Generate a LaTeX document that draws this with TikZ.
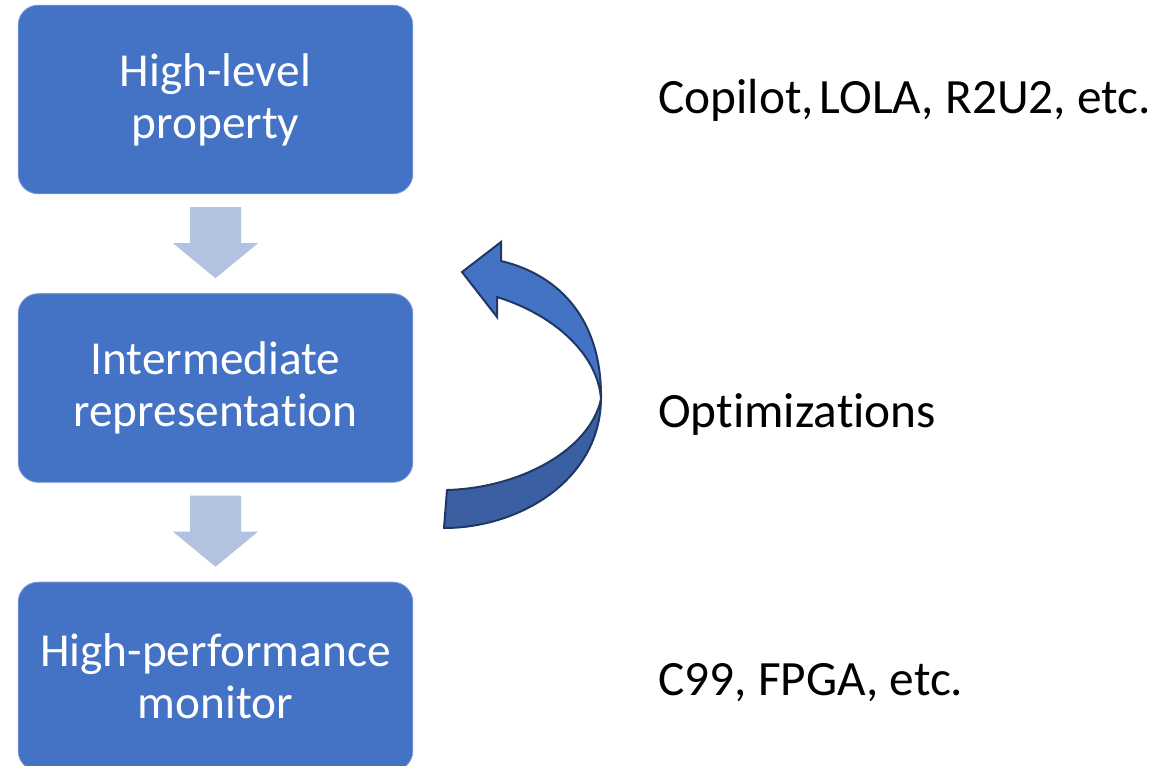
\documentclass[tikz,border=0pt]{standalone}
\usepackage{fontspec}
\setmainfont{Carlito}[Ligatures=NoCommon]
\usetikzlibrary{positioning,calc}
\definecolor{boxblue}{HTML}{4472C4}
\definecolor{flowblue}{HTML}{B4C2E2}
\definecolor{loopdark}{HTML}{3A5FA2}
\definecolor{loopline}{HTML}{1F3864}

\tikzset{
    stage/.style={rectangle, rounded corners=15pt, fill=boxblue, draw=boxblue!70!white,
        line width=0.6pt, minimum width=296pt, minimum height=141.5pt, text=white,
        align=center, font=\fontsize{35.5}{39}\selectfont},
    remark/.style={anchor=base west, inner sep=0pt, font=\fontsize{37}{40}\selectfont},
    flow/.style={fill=flowblue, draw=none}
}

\begin{document}
\begin{tikzpicture}[x=0.75pt, y=-0.75pt]
    \clip (0, 0) rectangle (1150, 765);

    % Stages of the compiler
    \node[stage] (prop) at (215.5, 99.5) {High-level\\property};
    \node[stage, below=74.25pt of prop] (ir) {Intermediate\\representation};
    \node[stage, below=74.25pt of ir] (mon) {High-performance\\monitor};

    % Block arrows between the stages
    \foreach \a/\b in {prop/ir, ir/mon}
        \fill[flow] ($(\a.south) + (-25.5, 13)$) -- ($(\a.south) + (25.5, 13)$)
            -- ($(\a.south) + (25.5, 49)$) -- ($(\a.south) + (42.5, 49)$)
            -- ($(\b.north) + (0, -15)$)
            -- ($(\a.south) + (-42.5, 49)$) -- ($(\a.south) + (-25.5, 49)$) -- cycle;

    % Curved arrow for the optimization loop
    \draw[fill=loopdark, draw=loopline, line width=1.5pt, line join=round]
        (444, 528) .. controls (520, 528) and (600, 480) .. (601, 399)
        .. controls (590, 450) and (520, 488) .. (447, 490) -- cycle;
    \draw[fill=boxblue, draw=loopline, line width=1.5pt, line join=miter]
        (601, 399) .. controls (602, 320) and (560, 275) .. (501, 261)
        -- (501, 242) -- (462, 272) -- (497, 317) -- (497, 297)
        .. controls (555, 315) and (598, 355) .. (601, 399) -- cycle;

    % Remarks on the right
    \node[remark] (tools) at (658, 113) {Copilot,\hspace{0.12em}LOLA, R2U2, etc.};
    \node[remark] (opt) at (658, 427) {Optimizations};
    \node[remark] (targets) at (658, 695) {C99, FPGA, etc.};
\end{tikzpicture}
\end{document}
